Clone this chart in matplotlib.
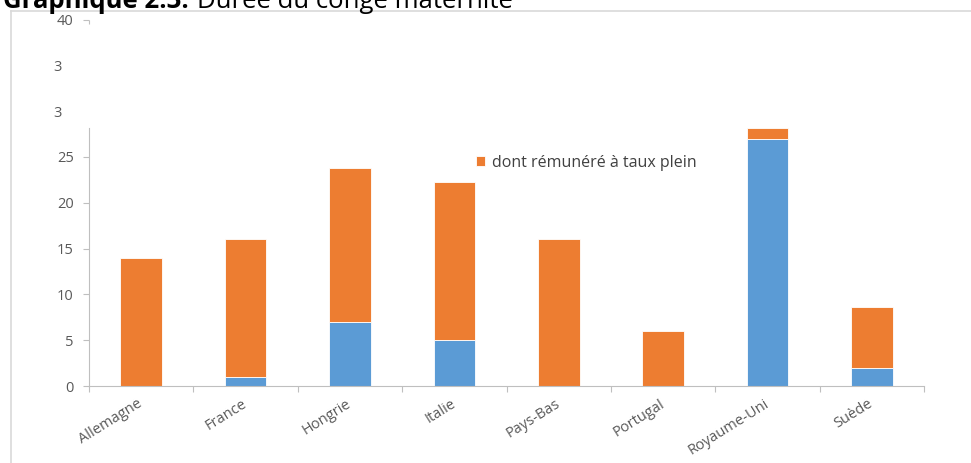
import matplotlib.pyplot as plt
from matplotlib.lines import Line2D

# Durée du congé maternité (semaines)
pays = ["Allemagne", "France", "Hongrie", "Italie", "Pays-Bas",
        "Portugal", "Royaume-Uni", "Suède"]
partie_bleue = [0, 1, 7, 5, 0, 0, 27, 2]
taux_plein = [14, 15, 16.8, 17.3, 16, 6, 1.2, 6.6]
yticks = [0, 5, 10, 15, 20, 25, 40]
yticks_mineurs = [30, 35]
yticks_mineurs_labels = ["3   ", "3   "]

BLEU = "#5B9BD5"
ORANGE = "#ED7D31"
GRIS = "#BFBFBF"
TEXTE = "#595959"

plt.rcParams['font.family'] = ['Open Sans', 'DejaVu Sans']

fig = plt.figure(figsize=(9.71, 4.63), dpi=100)
ax = fig.add_axes([0.0917, 0.1663, 0.860, 0.7914])

x = range(len(pays))
ax.bar(x, partie_bleue, width=0.4, color=BLEU, edgecolor="white", linewidth=0.6)
barres = ax.bar(x, taux_plein, bottom=partie_bleue, width=0.4, color=ORANGE,
                edgecolor="white", linewidth=0.6)

ax.set_xlim(-0.5, len(pays) - 0.5)
ax.set_ylim(0, 40)

# axe y : ticks 0-25 et 40, libellés tronqués "3" pour 30 et 35
ax.set_yticks(yticks)
ax.set_yticklabels([str(v) for v in yticks])
ax.set_yticks(yticks_mineurs, minor=True)
ax.set_yticklabels(yticks_mineurs_labels, minor=True)
ax.tick_params(axis='y', which='major', length=4, width=0.8, color=GRIS,
               labelsize=10.5, labelcolor=TEXTE, pad=7)
ax.tick_params(axis='y', which='minor', length=0, labelsize=10.5,
               labelcolor=TEXTE, pad=11)

# axe x : graduations entre les catégories
ax.set_xticks(list(x))
ax.set_xticklabels(pays, rotation=32, ha='right', va='center',
                   rotation_mode='anchor')
ax.set_xticks([i - 0.5 for i in range(len(pays) + 1)], minor=True)
ax.tick_params(axis='x', which='major', length=0, labelsize=10.5,
               labelcolor=TEXTE, pad=12)
ax.tick_params(axis='x', which='minor', length=4, width=0.8, color=GRIS)

for s in ['top', 'right']:
    ax.spines[s].set_visible(False)
ax.spines['left'].set_color(GRIS)
ax.spines['bottom'].set_color(GRIS)
ax.spines['left'].set_bounds(0, 28.2)
# petit bout d'axe sous le 40
ax.vlines(-0.5, 39.5, 40, color=GRIS, linewidth=0.8, clip_on=False)

ax.legend([barres[0]], ["dont rémunéré à taux plein"], loc='center left',
          bbox_to_anchor=(0.463, 0.609), frameon=False, fontsize=11.5,
          labelcolor="#404040", handlelength=0.6, handleheight=0.6,
          handletextpad=0.4, borderpad=0, borderaxespad=0)

# cadre gris autour du graphique
yb = 1 - 11 / 463
xl = 10.5 / 971
fig.add_artist(Line2D([xl, xl], [0, yb], color="#D9D9D9", linewidth=1.2))
fig.add_artist(Line2D([xl, 1.0], [yb, yb], color="#D9D9D9", linewidth=1.2))

# titre (coupé en haut comme dans la source)
t1 = fig.text(3 / 971, 1 - 7.5 / 463, "Graphique 2.3.", fontsize=18.5,
              fontweight='bold', va='baseline', ha='left', color="black")
fig.canvas.draw()
bb = t1.get_window_extent()
fig.text((bb.x1 + 8) / 971, 1 - 7.5 / 463, "Durée du congé maternité",
         fontsize=18.5, va='baseline', ha='left', color="black")

fig.savefig("out.png", dpi=100)
